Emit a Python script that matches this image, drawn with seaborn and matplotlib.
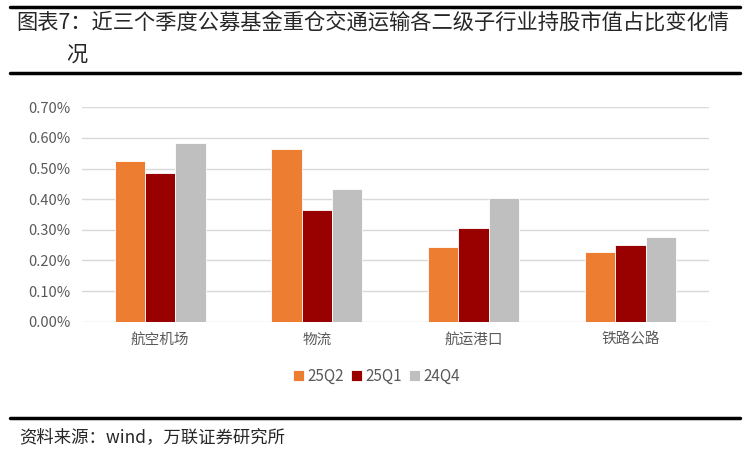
import matplotlib
matplotlib.use("Agg")
import matplotlib.pyplot as plt
from matplotlib.lines import Line2D
import seaborn as sns
import pandas as pd

industries = ["航空机场", "物流", "航运港口", "铁路公路"]
quarters = ["25Q2", "25Q1", "24Q4"]
q25q2 = [0.525, 0.564, 0.243, 0.228]
q25q1 = [0.485, 0.364, 0.305, 0.249]
q24q4 = [0.583, 0.432, 0.403, 0.278]
colors = ["#ED7D31", "#990000", "#BFBFBF"]
yticks = [0.0, 0.1, 0.2, 0.3, 0.4, 0.5, 0.6, 0.7]

title_line1 = "图表7：近三个季度公募基金重仓交通运输各二级子行业持股市值占比变化情"
title_line2 = "况"
source = "资料来源：wind，万联证券研究所"

df = pd.DataFrame({
    "industry": industries * 3,
    "quarter": [q for q in quarters for _ in industries],
    "value": q25q2 + q25q1 + q24q4,
})

sns.set_theme(style="white")
plt.rcParams["font.family"] = ["Noto Sans CJK SC", "DejaVu Sans"]

fig = plt.figure(figsize=(7.5, 4.5), dpi=100)
ax = fig.add_axes([0.109, 0.285, 0.836, 0.4765])

sns.barplot(data=df, x="industry", y="value", hue="quarter",
            palette=colors, width=0.58, gap=0, ax=ax,
            edgecolor="white", linewidth=0.6, saturation=1)

ax.set_ylim(0, 0.7)
ax.set_yticks(yticks)
ax.set_yticklabels([f"{v:.2f}%" for v in yticks], color="#595959", fontsize=10.5)
ax.set_xticks(range(len(industries)))
ax.set_xticklabels(industries, color="#595959", fontsize=10.5)
ax.tick_params(axis="x", length=0, pad=8)
ax.tick_params(axis="y", length=0, pad=8)
ax.yaxis.grid(True, color="#D9D9D9", linewidth=1)
ax.set_axisbelow(True)
for s in ax.spines.values():
    s.set_visible(False)
ax.set_xlabel("")
ax.set_ylabel("")

ax.legend(loc="center", bbox_to_anchor=(0.47, -0.255), ncol=3, frameon=False,
          fontsize=11, handlelength=0.7, handleheight=0.7, handletextpad=0.2,
          columnspacing=0.5, labelcolor="#595959")

# header / footer rules and text
for y in [1 - 7 / 450, 1 - 73 / 450, 1 - 418 / 450]:
    fig.add_artist(Line2D([0.013, 0.987], [y, y], color="black", linewidth=2.5,
                          transform=fig.transFigure))

fig.text(0.022, 1 - 23 / 450, title_line1, fontsize=15.3, va="center", ha="left")
fig.text(0.088, 1 - 55 / 450, title_line2, fontsize=15.3, va="center", ha="left")
fig.text(0.025, 1 - 437 / 450, source, fontsize=12.5, va="center", ha="left",
         style="italic")

fig.savefig("out.png", dpi=100)
